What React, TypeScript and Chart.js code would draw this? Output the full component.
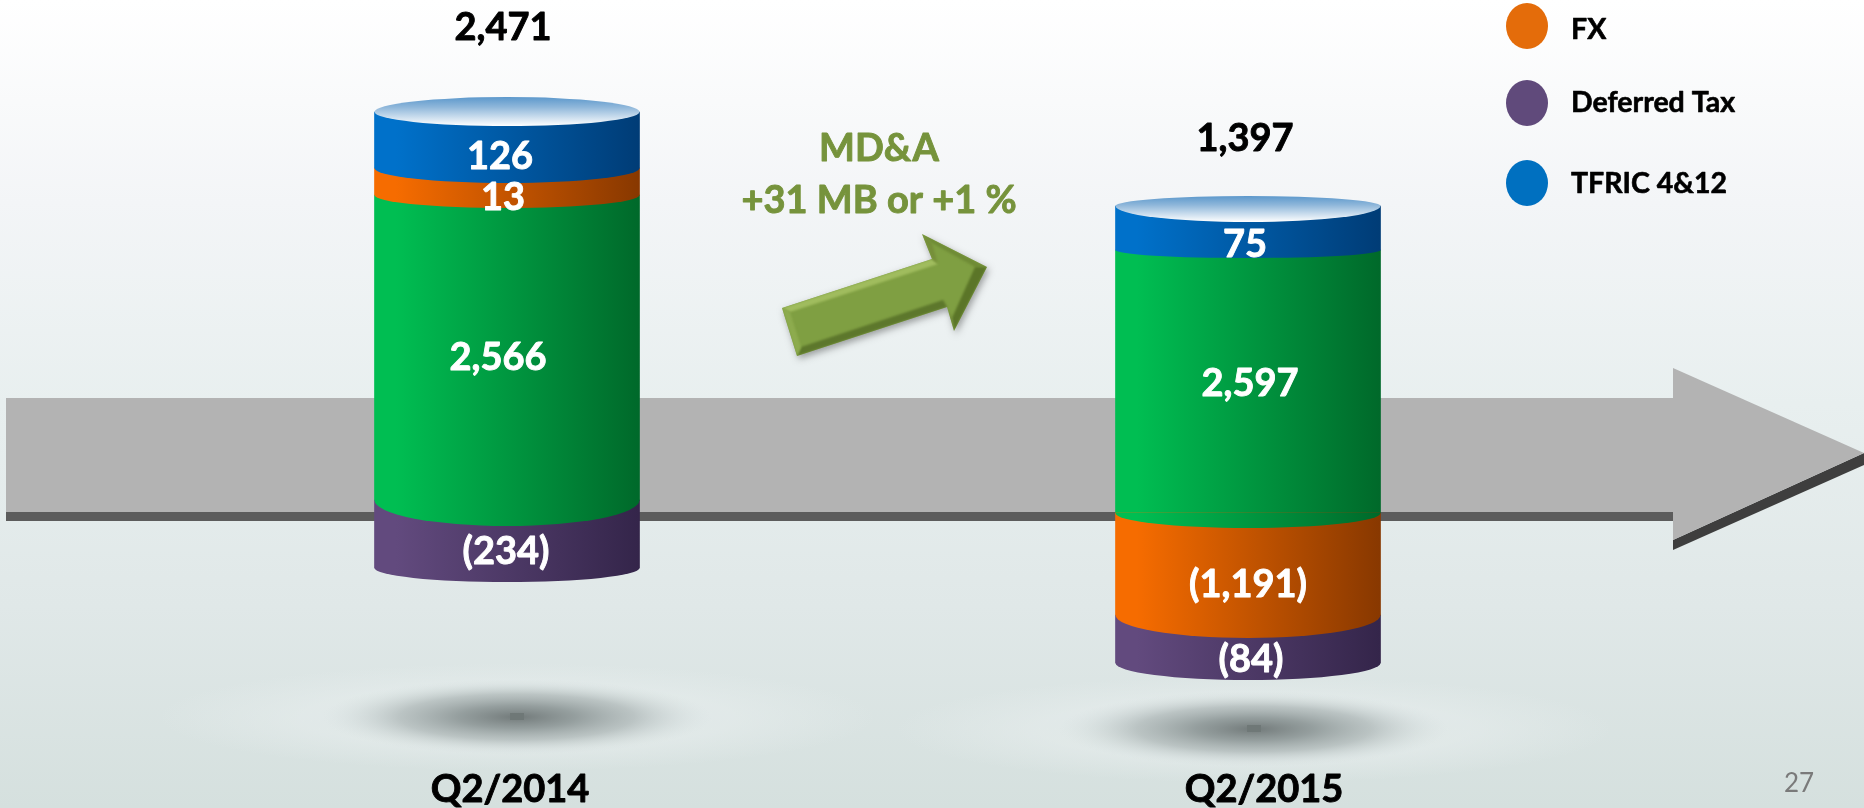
import React, { useEffect, useRef } from "react";
import { Chart, registerables } from "chart.js";

Chart.register(...registerables);

const categories = ["Q2/2014", "Q2/2015"];

// Printed values (used for the labels).
const tfricValues = [126, 75];
const fxValues = [13, -1191];
const mdaValues = [2566, 2597];
const deferredValues = [-234, -84];
const totals = [2471, 1397];

// The source graphic is NOT to scale: these are the segment lengths as measured
// off the picture, in y-axis units, and are what the bars are drawn from.
const tfricDrawn = [56, 44];
const fxDrawn = [27, 102];
const mdaDrawn = [305, 263];
const deferredDrawn = [68, 48];
const columnFloor = [240, 145];

const legendNames = ["FX", "Deferred Tax", "TFRIC 4&12"];
const legendColors = ["#e46c0a", "#604a7b", "#0070c0"];
const arrowLines = ["MD&A", "+31 MB or +1 %"];
const pageNumber = "27";

// Bottom-up stacking per column (indexes into seriesDefs).
const stackOrder = [
  [3, 2, 1, 0],
  [3, 1, 2, 0],
];

const seriesDefs = [
  { name: "TFRIC 4&12", values: tfricValues, drawn: tfricDrawn, c0: "#0071ca", c1: "#003c76", bulge: [15, 8], nudge: [[-7, 17], [-3, 17]] },
  { name: "FX", values: fxValues, drawn: fxDrawn, c0: "#f66c00", c1: "#883800", bulge: [13, 23], nudge: [[-4, 16], [0, 21]] },
  { name: "MD&A", values: mdaValues, drawn: mdaDrawn, c0: "#00be52", c1: "#00692a", bulge: [26, 15], nudge: [[-9, 10.5], [2, 2.5]] },
  { name: "Deferred Tax", values: deferredValues, drawn: deferredDrawn, c0: "#624a7e", c1: "#34254a", bulge: [14, 17], nudge: [[-1, 18], [3, 21]] },
];

const totalNudge = [[-4, -84], [-3, -67]];
const axisLabelPos = [[510, 790], [1264, 790]];
const capUp = [15, 10];
const capDown = [14, 16];

function ranges(seriesIndex: number) {
  return categories.map((_, col) => {
    let lo = columnFloor[col];
    for (const s of stackOrder[col]) {
      const hi = lo + seriesDefs[s].drawn[col];
      if (s === seriesIndex) return [lo, hi];
      lo = hi;
    }
    return [0, 0];
  });
}

function fmt(v: number) {
  const t = Math.abs(v).toLocaleString("en-US");
  return v < 0 ? `(${t})` : t;
}

function hGrad(ctx: CanvasRenderingContext2D, cx: number, w: number, c0: string, c1: string) {
  const g = ctx.createLinearGradient(cx - w / 2, 0, cx + w / 2, 0);
  g.addColorStop(0, c0);
  g.addColorStop(0.08, c0);
  g.addColorStop(1, c1);
  return g;
}

function path(ctx: CanvasRenderingContext2D, pts: number[][]) {
  ctx.beginPath();
  pts.forEach((p, i) => (i ? ctx.lineTo(p[0], p[1]) : ctx.moveTo(p[0], p[1])));
  ctx.closePath();
}

function poly(ctx: CanvasRenderingContext2D, pts: number[][], fill: any) {
  path(ctx, pts);
  ctx.fillStyle = fill;
  ctx.fill();
}

function text(ctx: CanvasRenderingContext2D, s: string, x: number, y: number, font: string, color: string, align: CanvasTextAlign = "center", weight = 0.9) {
  ctx.font = font;
  ctx.fillStyle = color;
  ctx.textAlign = align;
  ctx.textBaseline = "middle";
  ctx.fillText(s, x, y);
  if (weight > 0) {
    ctx.strokeStyle = color;
    ctx.lineWidth = weight;
    ctx.lineJoin = "round";
    ctx.strokeText(s, x, y);
  }
}

function radial(ctx: CanvasRenderingContext2D, cx: number, cy: number, rx: number, ry: number, stops: [number, string][]) {
  ctx.save();
  ctx.translate(cx, cy);
  ctx.scale(rx, ry);
  const g = ctx.createRadialGradient(0, 0, 0, 0, 0, 1);
  stops.forEach(([o, c]) => g.addColorStop(o, c));
  ctx.fillStyle = g;
  ctx.beginPath();
  ctx.arc(0, 0, 1, 0, Math.PI * 2);
  ctx.fill();
  ctx.restore();
}

function glow(ctx: CanvasRenderingContext2D, cx: number, cy: number) {
  radial(ctx, cx, cy, 360, 54, [
    [0, "rgba(232,238,238,0.5)"],
    [0.6, "rgba(232,238,238,0.5)"],
    [1, "rgba(232,238,238,0)"],
  ]);
  radial(ctx, cx, cy, 195, 38, [
    [0, "rgba(108,116,116,0.95)"],
    [0.3, "rgba(130,140,140,0.8)"],
    [0.6, "rgba(155,165,165,0.55)"],
    [0.85, "rgba(190,200,200,0.2)"],
    [1, "rgba(210,220,220,0)"],
  ]);
  ctx.fillStyle = "#6f7877";
  ctx.fillRect(cx - 7, cy - 4, 14, 7);
}

const BOLD = "bold 38px Lato";

const backdrop = {
  id: "backdrop",
  beforeDatasetsDraw(chart: any) {
    const ctx: CanvasRenderingContext2D = chart.ctx;
    const W = chart.width;
    const H = chart.height;
    ctx.save();
    const bg = ctx.createLinearGradient(0, 0, 0, H);
    bg.addColorStop(0, "#ffffff");
    bg.addColorStop(0.25, "#f3f5f7");
    bg.addColorStop(0.5, "#e8efef");
    bg.addColorStop(0.75, "#e0e8e8");
    bg.addColorStop(1, "#d5e0de");
    ctx.fillStyle = bg;
    ctx.fillRect(0, 0, W, H);

    glow(ctx, 517, 717);
    glow(ctx, 1254, 729);

    // Timeline arrow
    ctx.fillStyle = "#5c5c5c";
    ctx.fillRect(6, 505, 1668, 16);
    ctx.fillStyle = "#b3b3b3";
    ctx.fillRect(6, 398, 1668, 114);
    poly(ctx, [[1673, 540], [1864, 453], [1864, 465], [1673, 550]], "#3e3e3e");
    poly(ctx, [[1673, 368], [1864, 453], [1673, 540]], "#b3b3b3");

    // Green arrow with a soft bevel
    const A = [782, 308], B = [932, 259], C = [922, 234], D = [987, 267], E = [954, 331], F = [947, 307], G = [797, 356];
    const a = [790, 312], b = [938, 264], c = [932, 243], d = [975, 267], e = [952, 318], f = [943, 300], g = [801, 347];
    const outline = [A, B, C, D, E, F, G];
    ctx.save();
    ctx.shadowColor = "rgba(0,0,0,0.35)";
    ctx.shadowBlur = 7;
    ctx.shadowOffsetX = 2;
    ctx.shadowOffsetY = 3;
    poly(ctx, outline, "#7f9f42");
    ctx.restore();
    ctx.save();
    path(ctx, outline);
    ctx.clip();
    ctx.filter = "blur(1.2px)";
    poly(ctx, [A, B, b, a], "#a0bc5e");
    poly(ctx, [B, C, c, b], "#768f3a");
    poly(ctx, [C, D, d, c], "#6f8b36");
    poly(ctx, [D, E, e, d], "#5b7528");
    poly(ctx, [E, F, f, e], "#70893a");
    poly(ctx, [F, G, g, f], "#5d772c");
    poly(ctx, [G, A, a, g], "#8dab4e");
    ctx.restore();
    ctx.restore();
  },
};

const overlay = {
  id: "overlay",
  afterDatasetsDraw(chart: any) {
    const ctx: CanvasRenderingContext2D = chart.ctx;
    ctx.save();
    // Curved lower edge of every segment
    seriesDefs.forEach((s, i) => {
      chart.getDatasetMeta(i).data.forEach((el: any, col: number) => {
        ctx.beginPath();
        ctx.ellipse(el.x, el.base, el.width / 2, s.bulge[col], 0, 0, Math.PI);
        ctx.closePath();
        ctx.fillStyle = hGrad(ctx, el.x, el.width, s.c0, s.c1);
        ctx.fill();
      });
    });
    // Cylinder caps and totals
    chart.getDatasetMeta(0).data.forEach((el: any, col: number) => {
      const up = capUp[col];
      const down = capDown[col];
      const g = ctx.createLinearGradient(0, el.y - up, 0, el.y + down);
      g.addColorStop(0, "#5c98cc");
      g.addColorStop(0.35, "#8fb7da");
      g.addColorStop(1, "#ffffff");
      ctx.beginPath();
      ctx.ellipse(el.x, el.y, el.width / 2, up, 0, Math.PI, Math.PI * 2);
      ctx.ellipse(el.x, el.y, el.width / 2, down, 0, 0, Math.PI);
      ctx.closePath();
      ctx.fillStyle = g;
      ctx.fill();
      text(ctx, fmt(totals[col]), el.x + totalNudge[col][0], el.y + totalNudge[col][1], BOLD, "#000000");
    });
    // Segment labels
    seriesDefs.forEach((s, i) => {
      chart.getDatasetMeta(i).data.forEach((el: any, col: number) => {
        const mid = (el.y + el.base) / 2;
        text(ctx, fmt(s.values[col]), el.x + s.nudge[col][0], mid + s.nudge[col][1], BOLD, "#ffffff");
      });
    });
    // Category labels
    categories.forEach((c, i) => text(ctx, c, axisLabelPos[i][0], axisLabelPos[i][1], BOLD, "#000000"));
    // Arrow caption
    text(ctx, arrowLines[0], 879, 149, BOLD, "#76933c");
    text(ctx, arrowLines[1], 879, 201, BOLD, "#76933c");
    // Legend
    const legendY = [[26, 30], [103, 103], [183, 184]];
    legendNames.forEach((n, i) => {
      ctx.beginPath();
      ctx.ellipse(1527, legendY[i][0], 21, 23, 0, 0, Math.PI * 2);
      ctx.fillStyle = legendColors[i];
      ctx.fill();
      text(ctx, n, 1571, legendY[i][1], "bold 28.5px Lato", "#000000", "left", 0.6);
    });
    text(ctx, pageNumber, 1799, 784, "26px Lato", "#7a7a7a", "center", 0);
    ctx.restore();
  },
};

export default function App() {
  const ref = useRef<HTMLCanvasElement>(null);
  useEffect(() => {
    if (!ref.current) return;
    const chart = new Chart(ref.current, {
      type: "bar",
      data: {
        labels: categories,
        datasets: seriesDefs.map((s, i) => ({
          label: s.name,
          data: ranges(i) as any,
          grouped: false,
          barThickness: 265,
          borderWidth: 0,
          borderSkipped: false,
          backgroundColor: (c: any) => {
            if (c.dataIndex === undefined || !c.chart.chartArea) return s.c0;
            const cx = c.chart.scales.x.getPixelForValue(c.dataIndex);
            return hGrad(c.chart.ctx, cx, 265, s.c0, s.c1);
          },
        })),
      },
      options: {
        responsive: false,
        animation: false,
        layout: { padding: { left: 136.5, right: 245.5, top: 0, bottom: 0 } },
        plugins: { legend: { display: false }, tooltip: { enabled: false }, title: { display: false } },
        scales: {
          x: { display: false, grid: { display: false } },
          y: { display: false, min: 0, max: 808, grid: { display: false } },
        },
      },
      plugins: [backdrop, overlay],
    } as any);
    return () => chart.destroy();
  }, []);
  return (
    <div style={{ position: "fixed", left: 0, top: 0, width: 1864, height: 808 }}>
      <canvas ref={ref} width={1864} height={808} style={{ display: "block" }} />
    </div>
  );
}
